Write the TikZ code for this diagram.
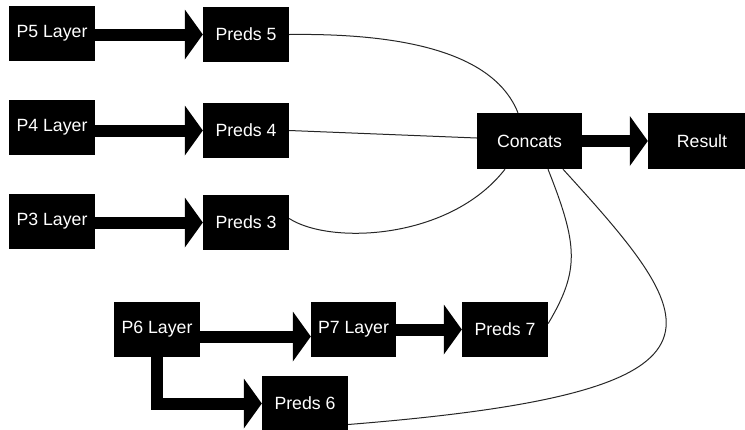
\documentclass[tikz,border=0pt]{standalone}
\usepackage{fontspec}
\setmainfont{Liberation Sans}
\usetikzlibrary{arrows.meta}
\tikzset{
  box/.style={fill=black, draw=none, text=white, inner sep=0pt,
    font=\fontsize{17.7}{20}\selectfont, minimum height=55pt},
  fat/.style={line width=12pt, line join=miter,
    -{Triangle[length=18pt,width=50pt,line width=0pt]}},
  thin/.style={line width=1pt, draw=black!85}
}
\begin{document}
\begin{tikzpicture}[x=1pt,y=-1pt]
\useasboundingbox (0,0) rectangle (745,429);
% top rows
\node[box, minimum width=86pt] (p5) at (52,33.5) {P5 Layer};
\node[box, minimum width=86pt] (r5) at (246,34.5) {Preds 5};
\node[box, minimum width=86pt] (p4) at (52,127) {P4 Layer};
\node[box, minimum width=86pt] (r4) at (246,130.5) {Preds 4};
\node[box, minimum width=86pt] (p3) at (52,221) {P3 Layer};
\node[box, minimum width=86pt] (r3) at (246,222.5) {Preds 3};
% concat and result
\node[box, minimum width=105pt, minimum height=56pt] (cc) at (529.5,141) {Concats};
\node[box, minimum width=108pt, minimum height=56pt] (res) at (702,141) {Result};
% bottom
\node[box, minimum width=86pt] (p6) at (157,329.5) {P6 Layer};
\node[box, minimum width=85pt] (p7) at (353.5,329.5) {P7 Layer};
\node[box, minimum width=86pt] (r7) at (505,329.5) {Preds 7};
\node[box, minimum width=86pt] (r6) at (305,403.5) {Preds 6};
% fat arrows
\draw[fat] (p5.east |- r5.west) -- (r5.west);
\draw[fat] (p4.east |- r4.west) -- (r4.west);
\draw[fat] (p3.east |- r3.west) -- (r3.west);
\draw[fat] (cc.east) -- (res.west);
\draw[fat] ([yshift=-7pt]p6.east) -- ([yshift=-7pt]p7.west);
\draw[fat] (p7.east) -- (r7.west);
\draw[fat] (p6.south) |- (r6.west);
% thin connectors
\draw[thin] (r5.east) .. controls (410,33) and (495,55) .. (cc.north west -| 518,0);
\draw[thin] (r4.east) -- ([yshift=3pt]cc.west);
\draw[thin] ([yshift=4pt]r3.east) .. controls (330,245) and (450,240) .. (cc.south west -| 505,0);
\draw[thin] (cc.south west -| 548,0) .. controls (578,245) and (580,270) .. ([yshift=6pt]r7.east);
\draw[thin] (cc.south west -| 563,0) .. controls (705,325) and (755,392) .. ([yshift=-21pt]r6.east);
\end{tikzpicture}
\end{document}
